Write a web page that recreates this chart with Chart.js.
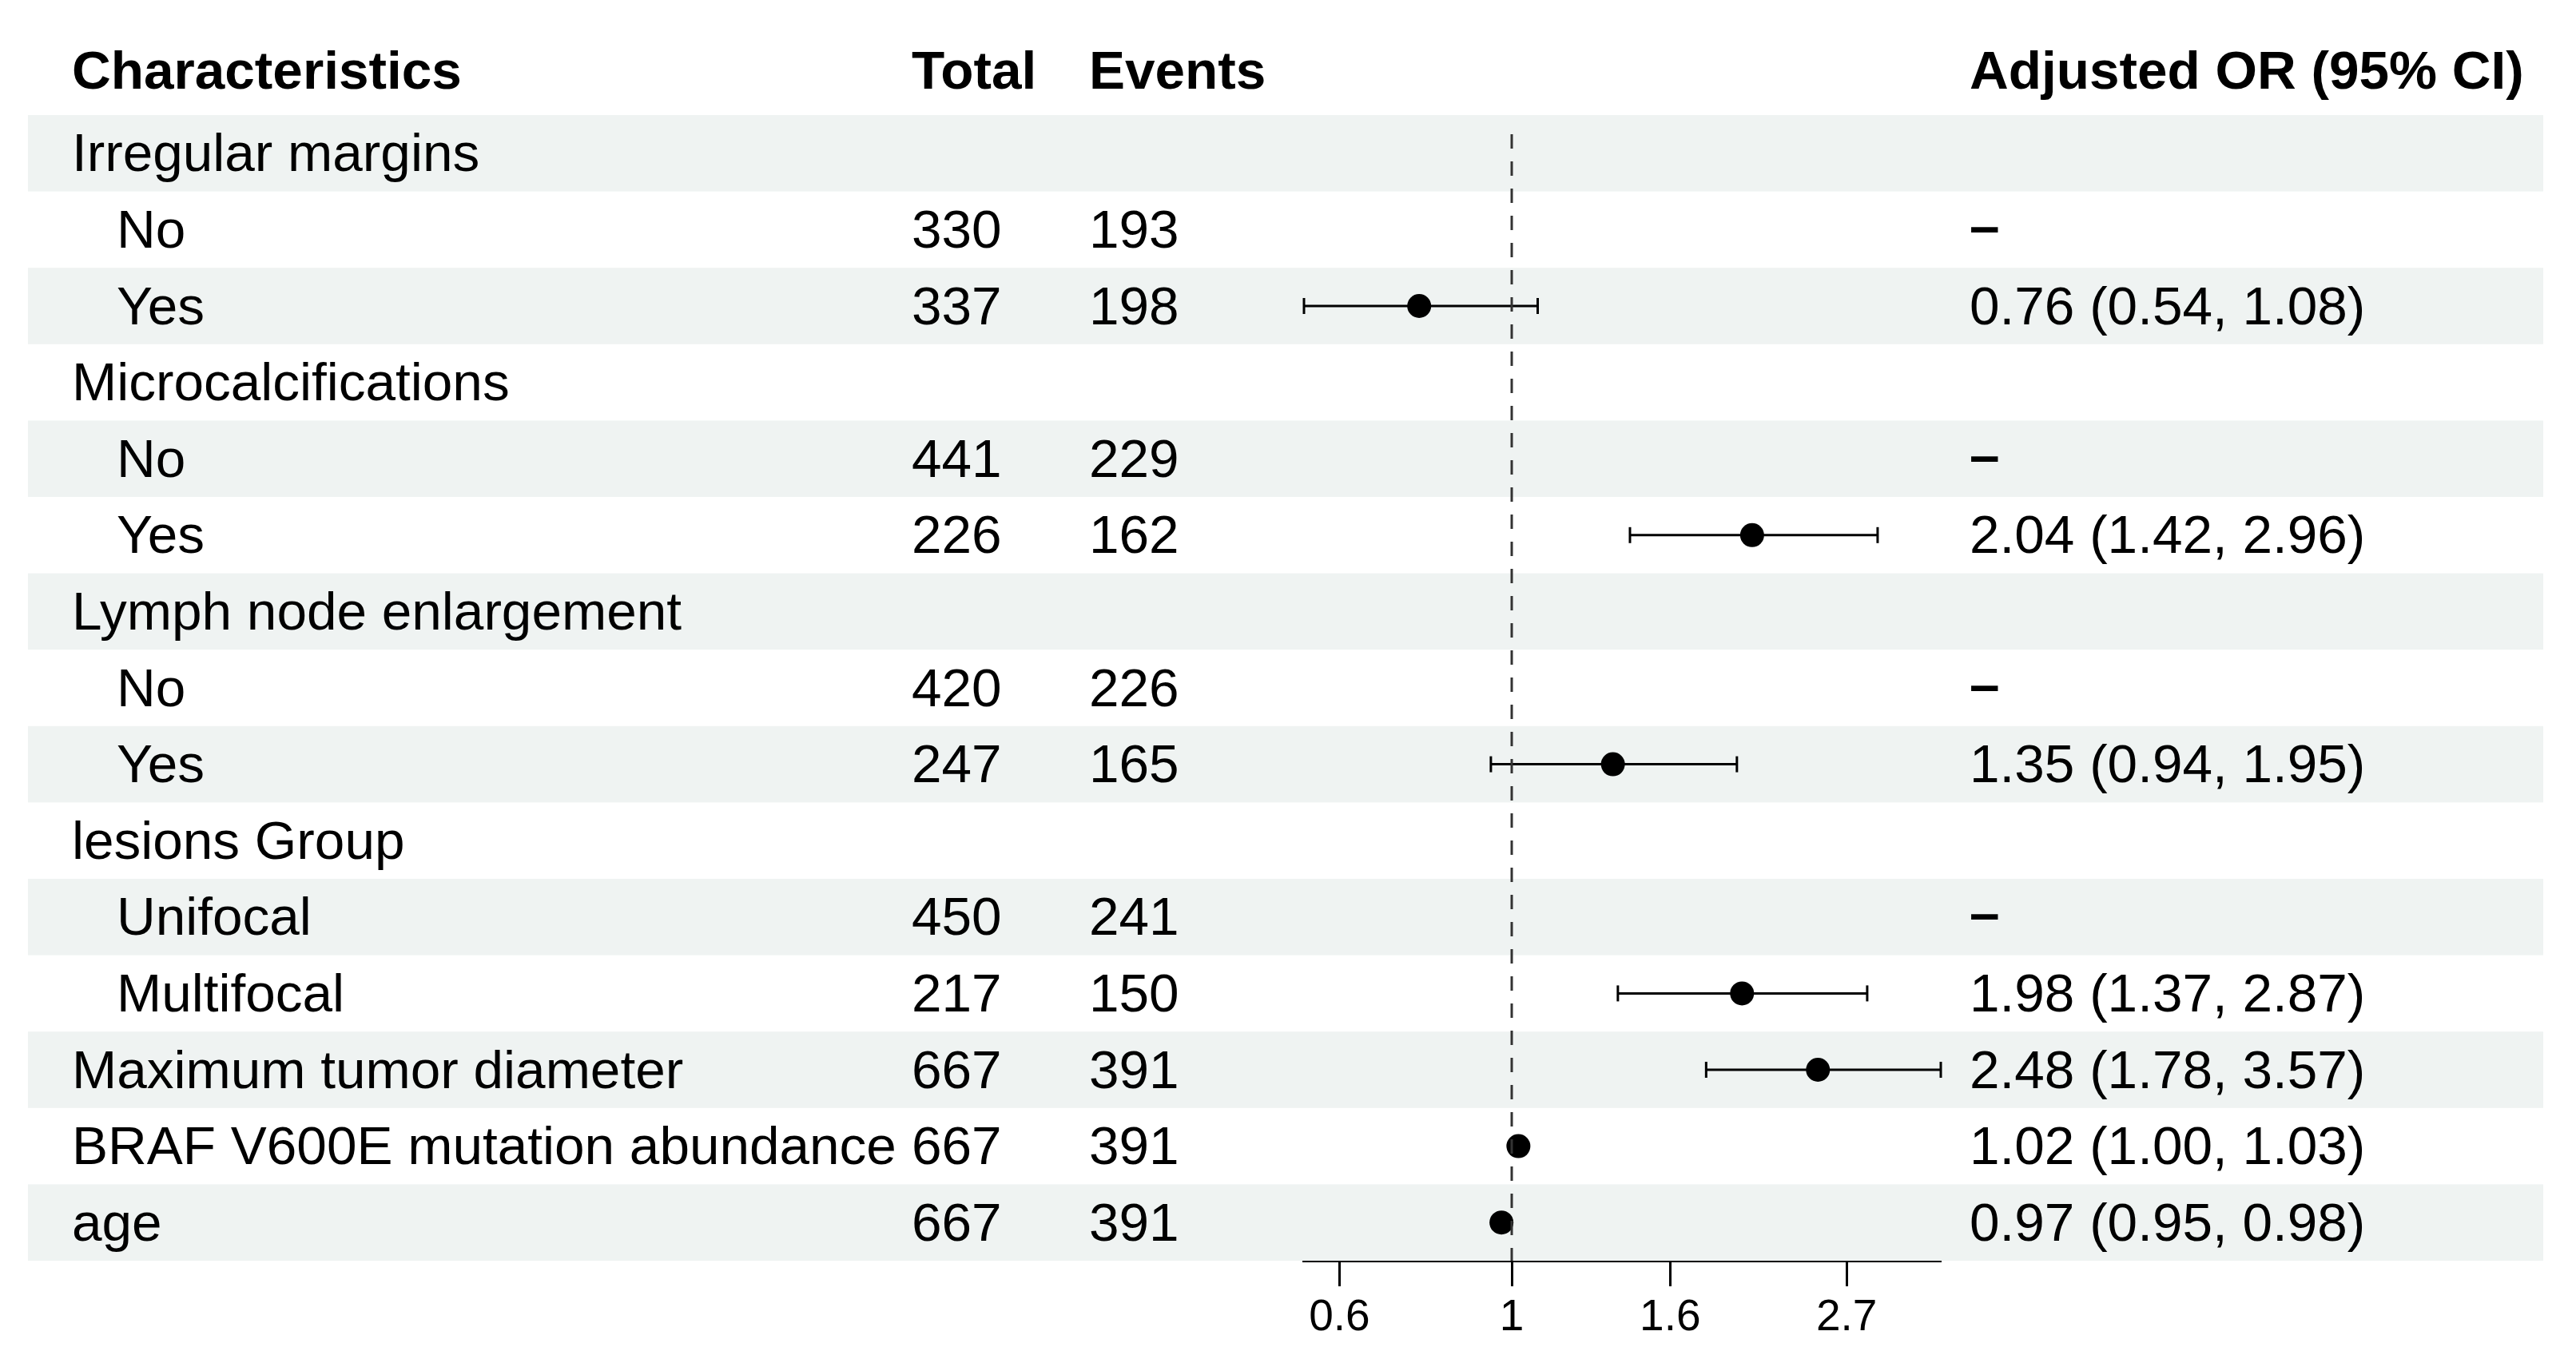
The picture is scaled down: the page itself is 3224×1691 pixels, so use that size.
<!DOCTYPE html>
<html>
<head>
<meta charset="utf-8">
<script src="https://cdn.jsdelivr.net/npm/chart.js@4.4.1/dist/chart.umd.min.js"></script>
<style>
  html, body { margin: 0; padding: 0; background: #fff; }
  canvas { display: block; }
</style>
</head>
<body>
<canvas id="forest" width="3224" height="1691" style="width:3224px;height:1691px"></canvas>
<script>
// forest plot data, one entry per table row
const rowLabels = [
    'Irregular margins', 'No', 'Yes',
    'Microcalcifications', 'No', 'Yes',
    'Lymph node enlargement', 'No', 'Yes',
    'lesions Group', 'Unifocal', 'Multifocal',
    'Maximum tumor diameter', 'BRAF V600E mutation abundance', 'age'
];
const isLevel = [false, true, true, false, true, true, false, true, true, false, true, true, false, false, false];
const totals = [null, 330, 337, null, 441, 226, null, 420, 247, null, 450, 217, 667, 667, 667];
const events = [null, 193, 198, null, 229, 162, null, 226, 165, null, 241, 150, 391, 391, 391];
const orEst  = [null, null, 0.76, null, null, 2.04, null, null, 1.35, null, null, 1.98, 2.48, 1.02, 0.97];
const ciLow  = [null, null, 0.54, null, null, 1.42, null, null, 0.94, null, null, 1.37, 1.78, 1.00, 0.95];
const ciHigh = [null, null, 1.08, null, null, 2.96, null, null, 1.95, null, null, 2.87, 3.57, 1.03, 0.98];
const headers = ['Characteristics', 'Total', 'Events', 'Adjusted OR (95% CI)'];
const xTicks = [0.6, 1, 1.6, 2.7];
const refValue = 1;

const FONT = '"Liberation Sans", Arial, Helvetica, sans-serif';
Chart.defaults.font.family = FONT;

// column x positions (page pixels)
const colX = { label: 90, level: 146, total: 1141, events: 1363, or: 2465 };
const TEXT_NUDGE = 4; // text sits a touch below the row middle

function isReference(i) {
    return orEst[i] === null && totals[i] !== null;
}

function orText(i) {
    if (orEst[i] === null) return isReference(i) ? '\u2013' : '';
    return `${orEst[i].toFixed(2)} (${ciLow[i].toFixed(2)}, ${ciHigh[i].toFixed(2)})`;
}

// CI datasets: a line with vertical caps at both ends
const ciSets = [];
orEst.forEach((v, i) => {
    if (v === null) return;
    ciSets.push({
        type: 'scatter',
        data: [{ x: ciLow[i], y: i }, { x: ciHigh[i], y: i }],
        showLine: true,
        borderColor: '#000',
        borderWidth: 3,
        pointStyle: 'line',
        rotation: 90,
        pointRadius: 10,
        pointBorderWidth: 3,
        pointBorderColor: '#000',
        clip: false,
        order: 2
    });
});

const pointSet = {
    type: 'scatter',
    data: orEst.map((v, i) => v === null ? null : { x: v, y: i }).filter(p => p),
    pointStyle: 'circle',
    pointRadius: 15,
    pointBorderWidth: 0,
    backgroundColor: '#000',
    clip: false,
    order: 1
};

// striped rows behind everything
const bandsPlugin = {
    id: 'bands',
    beforeDatasetsDraw(chart) {
        const { ctx } = chart;
        const y = chart.scales.y;
        ctx.save();
        rowLabels.forEach((_, i) => {
            if (i % 2 !== 0) return;
            const top = y.getPixelForValue(i - 0.5);
            const bot = y.getPixelForValue(i + 0.5);
            ctx.fillStyle = '#eff3f2';
            ctx.fillRect(35, top, 3183 - 35, bot - top);
        });
        ctx.restore();
    }
};

// dashed reference line at OR = 1
const refPlugin = {
    id: 'refline',
    afterDatasetsDraw(chart) {
        const { ctx, chartArea } = chart;
        const x = chart.scales.x.getPixelForValue(refValue);
        ctx.save();
        ctx.strokeStyle = '#333333';
        ctx.lineWidth = 3;
        ctx.setLineDash([18, 16]);
        ctx.beginPath();
        ctx.moveTo(x, chartArea.top + 24);
        ctx.lineTo(x, chartArea.bottom);
        ctx.stroke();
        ctx.restore();
    }
};

// table text columns
const tablePlugin = {
    id: 'tableText',
    afterDraw(chart) {
        const { ctx } = chart;
        const y = chart.scales.y;
        ctx.save();
        ctx.fillStyle = '#000';
        ctx.textBaseline = 'middle';
        ctx.textAlign = 'left';

        ctx.font = `bold 67.5px ${FONT}`;
        const hy = 92;
        ctx.fillText(headers[0], colX.label, hy);
        ctx.fillText(headers[1], colX.total, hy);
        ctx.fillText(headers[2], colX.events, hy);
        ctx.fillText(headers[3], colX.or, hy);

        const normal = `67.5px ${FONT}`;
        rowLabels.forEach((lab, i) => {
            const py = y.getPixelForValue(i) + TEXT_NUDGE;
            ctx.font = normal;
            ctx.fillText(lab, isLevel[i] ? colX.level : colX.label, py);
            if (totals[i] !== null) ctx.fillText(String(totals[i]), colX.total, py);
            if (events[i] !== null) ctx.fillText(String(events[i]), colX.events, py);
            if (isReference(i)) ctx.font = `bold 67.5px ${FONT}`;
            ctx.fillText(orText(i), colX.or, py - (isReference(i) ? 4 : 0));
        });
        ctx.restore();
    }
};

new Chart(document.getElementById('forest').getContext('2d'), {
    type: 'scatter',
    data: { datasets: [...ciSets, pointSet] },
    options: {
        responsive: false,
        animation: false,
        devicePixelRatio: 1,
        layout: { padding: { left: 1632, right: 795, top: 144, bottom: 13 } },
        plugins: { legend: { display: false }, tooltip: { enabled: false } },
        scales: {
            x: {
                type: 'logarithmic',
                position: 'bottom',
                min: 0.54,
                max: 3.57,
                afterBuildTicks: s => { s.ticks = xTicks.map(v => ({ value: v })); },
                afterFit: s => { s.height = 100; },
                ticks: {
                    callback: v => String(v),
                    font: { size: 55 },
                    color: '#000',
                    padding: 7,
                    maxRotation: 0,
                    autoSkip: false
                },
                grid: { drawOnChartArea: false, drawTicks: true, tickLength: 32, tickWidth: 3, tickColor: '#000' },
                border: { display: true, color: '#000', width: 4 }
            },
            y: { type: 'linear', min: -0.5, max: 14.5, reverse: true, display: false }
        }
    },
    plugins: [bandsPlugin, refPlugin, tablePlugin]
});
</script>
</body>
</html>
